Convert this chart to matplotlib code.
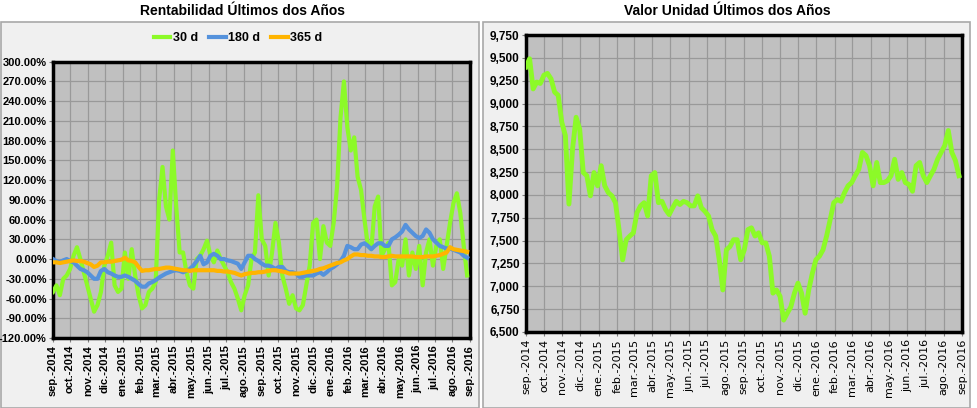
import matplotlib
matplotlib.use('Agg')
import numpy as np
import pandas as pd
import matplotlib.pyplot as plt
from matplotlib.patches import Rectangle
from matplotlib.ticker import FuncFormatter

# series sampled every 6 days from 2014-09-01
fechas = pd.date_range('2014-09-01', periods=122, freq='6D')

rent_30d = [-50, -40, -55, -30, -25, -15, 5, 18, 0, -20,
            -40, -60, -80, -70, -50, -10, 5, 25, -40, -50,
            -45, 10, -30, 15, -25, -55, -75, -70, -50, -45,
            -35, 90, 140, 80, 60, 165, 80, 10, 10, -20,
            -40, -45, 0, 5, 15, 28, 5, -5, 13, 0,
            -10, -20, -35, -45, -60, -78, -55, -40, 0, 10,
            97, 30, 20, -25, 10, 55, 25, -25, -45, -68,
            -55, -75, -78, -70, -40, -10, 55, 60, 0, 50,
            25, 20, 55, 110, 215, 270, 200, 165, 185, 125,
            105, 60, 20, 15, 80, 95, 5, 15, 25, -40,
            -35, 0, -10, 30, -25, 10, -15, 20, -40, 10,
            30, -10, 20, 30, -15, 20, 55, 85, 100, 70,
            20, -25]

rent_180d = [0, -3, -5, -2, 0, -3, -5, -10, -15, -17,
             -20, -25, -30, -30, -18, -15, -20, -22, -25, -27,
             -27, -25, -27, -30, -33, -38, -42, -42, -37, -35,
             -32, -28, -25, -22, -20, -18, -17, -18, -20, -18,
             -15, -10, -3, 5, -8, -5, 5, 8, 5, 0,
             0, -2, -3, -5, -7, -15, -5, 5, 5, 0,
             -3, -7, -10, -10, -12, -15, -12, -12, -18, -20,
             -20, -22, -27, -27, -25, -25, -25, -22, -20, -24,
             -20, -15, -12, -8, -3, 5, 20, 18, 15, 15,
             22, 24, 20, 15, 20, 24, 24, 20, 20, 30,
             33, 37, 42, 52, 45, 40, 35, 32, 35, 45,
             40, 30, 25, 20, 18, 16, 16, 14, 12, 10,
             5, 2]

rent_365d = [-5, -5, -6, -5, -4, -3, -2, -3, -3, -4,
             -6, -8, -12, -10, -5, -5, -4, -4, -3, -2,
             -1, 2, -2, -3, -5, -12, -18, -17, -17, -16,
             -15, -15, -14, -13, -13, -14, -15, -16, -17, -17,
             -18, -17, -17, -17, -17, -17, -17, -17, -18, -18,
             -19, -19, -20, -21, -23, -25, -23, -22, -21, -21,
             -20, -20, -19, -18, -17, -17, -18, -19, -20, -22,
             -22, -22, -22, -21, -20, -19, -18, -17, -15, -14,
             -12, -10, -8, -6, -5, -2, 0, 4, 7, 7,
             6, 6, 5, 5, 4, 4, 3, 3, 4, 5,
             4, 4, 4, 4, 4, 4, 3, 3, 3, 4,
             4, 4, 5, 6, 8, 10, 18, 15, 14, 13,
             12, 11]

valor_unidad = [9400, 9490, 9160, 9235, 9220, 9310, 9330, 9270, 9125, 9090,
                8795, 8650, 7900, 8500, 8850, 8720, 8245, 8210, 7990, 8245,
                8100, 8320, 8100, 8025, 7990, 7915, 7620, 7290, 7510, 7550,
                7585, 7805, 7880, 7915, 7770, 8210, 8245, 7915, 7930, 7840,
                7785, 7860, 7930, 7895, 7930, 7915, 7880, 7880, 7990, 7860,
                7820, 7770, 7620, 7550, 7290, 6960, 7400, 7435, 7510, 7510,
                7290, 7400, 7620, 7640, 7550, 7585, 7475, 7475, 7330, 6925,
                6960, 6890, 6630, 6705, 6775, 6925, 7035, 6925, 6705, 6960,
                7140, 7290, 7330, 7400, 7550, 7730, 7915, 7950, 7930, 8025,
                8100, 8135, 8210, 8280, 8465, 8430, 8320, 8100, 8355, 8135,
                8135, 8155, 8210, 8390, 8170, 8245, 8135, 8115, 8040, 8320,
                8355, 8210, 8135, 8210, 8280, 8390, 8465, 8540, 8705, 8465,
                8375, 8210]

meses = ['sep', 'oct', 'nov', 'dic', 'ene', 'feb', 'mar', 'abr', 'may', 'jun', 'jul', 'ago']
ticks_x = pd.date_range('2014-09-01', '2016-09-01', freq='MS')
etiquetas_x = [f"{meses[(d.month - 9) % 12]}.-{d.year}" for d in ticks_x]

VERDE = '#8cfa28'
AZUL = '#5592dc'
NARANJA = '#ffb400'

plt.rcParams['font.family'] = ['Liberation Sans', 'DejaVu Sans']

fig = plt.figure(figsize=(9.78, 4.08), dpi=100)
W, H = 978.0, 408.0

# panel backgrounds
for x0, x1 in [(1, 479), (483, 970)]:
    fig.patches.append(Rectangle((x0 / W, 0), (x1 - x0) / W, (408 - 22) / H,
                                 transform=fig.transFigure, facecolor='#f0f0f0',
                                 edgecolor='#a8a8a8', linewidth=1.2, zorder=-5))

fig.text(243 / W, 1 - 11 / H, 'Rentabilidad Últimos dos Años', ha='center', va='center',
         fontsize=10, fontweight='bold')
fig.text(727 / W, 1 - 11 / H, 'Valor Unidad Últimos dos Años', ha='center', va='center',
         fontsize=10, fontweight='bold')


def estilo(ax):
    ax.set_facecolor('#c0c0c0')
    ax.grid(True, color='#999999', linewidth=0.9)
    ax.set_axisbelow(True)
    for s in ax.spines.values():
        s.set_linewidth(2.5)
        s.set_color('black')
    ax.set_xlim(ticks_x[0], ticks_x[-1])
    ax.set_xticks(ticks_x)
    ax.tick_params(axis='both', length=3, color='#808080', pad=2)
    ax.tick_params(axis='y', pad=1.5)


# left chart: rentabilidad
ax1 = fig.add_axes([53 / W, 70 / H, 417 / W, 276.3 / H])
estilo(ax1)
ax1.plot(fechas, rent_30d, color=VERDE, linewidth=3, label='30 d', zorder=3)
ax1.plot(fechas, rent_180d, color=AZUL, linewidth=3, label='180 d', zorder=4)
ax1.plot(fechas, rent_365d, color=NARANJA, linewidth=3, label='365 d', zorder=5)
ax1.set_ylim(-120, 300)
ax1.set_yticks(np.arange(-120, 301, 30))
ax1.yaxis.set_major_formatter(FuncFormatter(lambda v, p: f"{v:.2f}%"))
ax1.set_xticklabels(etiquetas_x, rotation=90, fontsize=8, fontweight='bold')
for t in ax1.get_yticklabels():
    t.set_fontsize(8)
    t.set_fontweight('bold')
leg = ax1.legend(loc='center', bbox_to_anchor=(0.444, 1.086), ncol=3, frameon=False,
                 handlelength=1.3, handletextpad=0.2, columnspacing=0.9,
                 prop={'size': 9, 'weight': 'bold'})
for line in leg.get_lines():
    line.set_linewidth(3)

# right chart: valor unidad
ax2 = fig.add_axes([526 / W, 76 / H, 436 / W, 297 / H])
estilo(ax2)
ax2.plot(fechas, valor_unidad, color=VERDE, linewidth=3.5, zorder=3)
ax2.set_ylim(6500, 9750)
ax2.set_yticks(np.arange(6500, 9751, 250))
ax2.yaxis.set_major_formatter(FuncFormatter(lambda v, p: f"{v:,.0f}"))
ax2.set_xticklabels(etiquetas_x, rotation=90, fontsize=8, family='DejaVu Sans')
for t in ax2.get_yticklabels():
    t.set_fontsize(8.5)
    t.set_fontweight('bold')

plt.savefig('out.png', dpi=100)
